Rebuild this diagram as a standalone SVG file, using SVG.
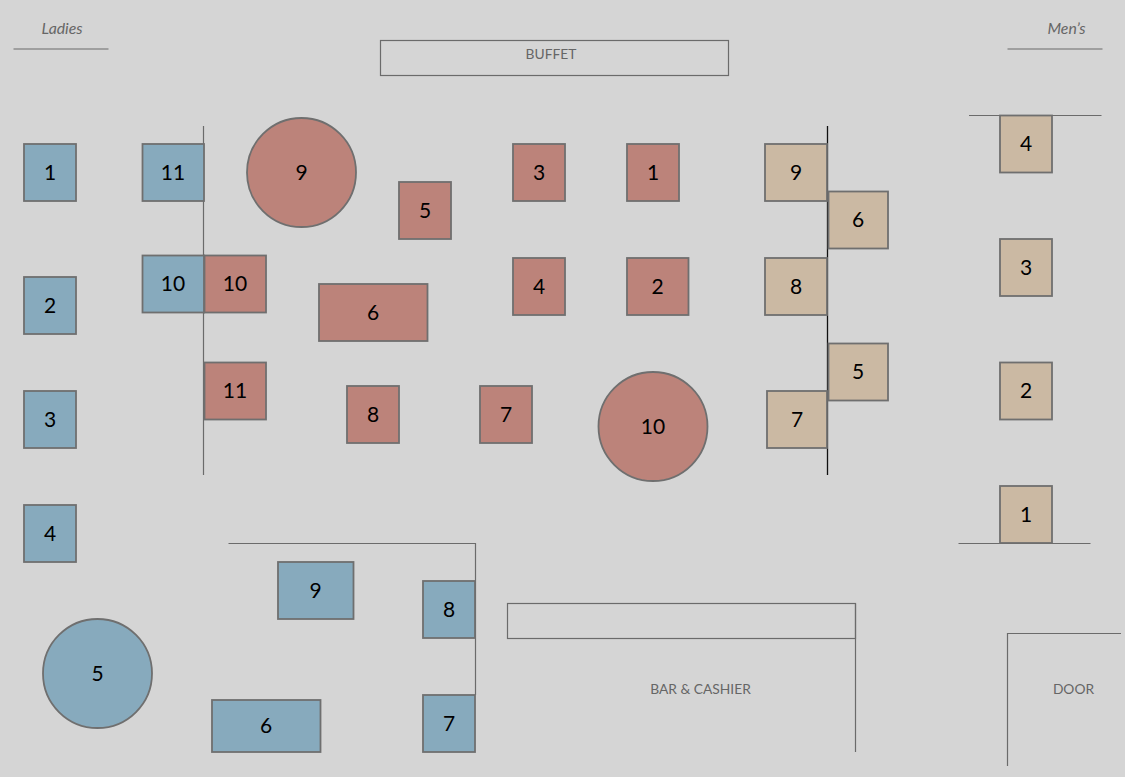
<svg xmlns="http://www.w3.org/2000/svg" width="1125" height="777" viewBox="0 0 1125 777">
<style>
text{font-family:Lato,"Open Sans","Liberation Sans",sans-serif;text-anchor:middle}
.n{font-size:21px;fill:#000}
.l{font-size:13.800px;fill:#666}
.i{font-size:15.800px;font-style:italic}
.w{stroke:#6b6b6b;stroke-width:1.2;fill:none}
.b,.r,.t{stroke:#6f6f6f;stroke-width:1.8}
.b{fill:#87aabd}.r{fill:#bc837a}.t{fill:#cbb9a3}
</style>
<rect width="1125" height="777" fill="#d5d5d5"/>
<g id="walls">
<path class="w" d="M13.500 49H108.500M1007.500 49H1102.500M969 115.500H1101.500M203.500 126V475M228.500 543.500H475.500V695M958.500 543.500H1090.500M855.500 603.500V752M1007.500 766V633.500H1121"/>
<path d="M827.500 126V475" stroke="#111" stroke-width="1.300" fill="none"/>
</g>
<g id="fixtures">
<g id="buffet"><rect class="w" x="380.500" y="40.500" width="348" height="35"/><text class="l" x="551" y="59">BUFFET</text></g>
<g id="bar"><rect class="w" x="507.500" y="603.500" width="348" height="35"/><text class="l" x="700.500" y="694">BAR &amp; CASHIER</text></g>
<g id="door"><text class="l" x="1073.500" y="694">DOOR</text></g>
<g id="ladies"><text class="l i" x="62" y="34">Ladies</text></g>
<g id="mens"><text class="l i" x="1066.500" y="34">Men’s</text></g>
</g>
<g id="tables-blue">
<g id="b1"><rect class="b" x="24" y="144" width="52" height="57"/><text class="n" x="50" y="180">1</text></g>
<g id="b2"><rect class="b" x="24" y="277" width="52" height="57"/><text class="n" x="50" y="313">2</text></g>
<g id="b3"><rect class="b" x="24" y="391" width="52" height="57"/><text class="n" x="50" y="427">3</text></g>
<g id="b4"><rect class="b" x="24" y="505" width="52" height="57"/><text class="n" x="50" y="541">4</text></g>
<g id="b5"><circle class="b" cx="97.500" cy="673.500" r="54.500"/><text class="n" x="97.500" y="681">5</text></g>
<g id="b6"><rect class="b" x="212" y="700" width="108.500" height="52"/><text class="n" x="266" y="733">6</text></g>
<g id="b7"><rect class="b" x="423" y="695" width="52" height="57"/><text class="n" x="449" y="731">7</text></g>
<g id="b8"><rect class="b" x="423" y="581" width="52" height="57"/><text class="n" x="449" y="617">8</text></g>
<g id="b9"><rect class="b" x="278" y="562" width="75.500" height="57"/><text class="n" x="315.500" y="598">9</text></g>
<g id="b10"><rect class="b" x="142.500" y="255.500" width="61.500" height="57"/><text class="n" x="173" y="291">10</text></g>
<g id="b11"><rect class="b" x="142.500" y="144" width="61.500" height="57"/><text class="n" x="173" y="180">11</text></g>
</g>
<g id="tables-red">
<g id="r1"><rect class="r" x="627" y="144" width="52" height="57"/><text class="n" x="653" y="180">1</text></g>
<g id="r2"><rect class="r" x="627" y="258" width="61.500" height="57"/><text class="n" x="657.500" y="294">2</text></g>
<g id="r3"><rect class="r" x="513" y="144" width="52" height="57"/><text class="n" x="539" y="180">3</text></g>
<g id="r4"><rect class="r" x="513" y="258" width="52" height="57"/><text class="n" x="539" y="294">4</text></g>
<g id="r5"><rect class="r" x="399" y="182" width="52" height="57"/><text class="n" x="425" y="218">5</text></g>
<g id="r6"><rect class="r" x="319" y="284" width="108.500" height="57"/><text class="n" x="373" y="320">6</text></g>
<g id="r7"><rect class="r" x="480" y="386" width="52" height="57"/><text class="n" x="506" y="422">7</text></g>
<g id="r8"><rect class="r" x="347" y="386" width="52" height="57"/><text class="n" x="373" y="422">8</text></g>
<g id="r9"><circle class="r" cx="301.500" cy="172.500" r="54.500"/><text class="n" x="301.500" y="180">9</text></g>
<g id="r10"><rect class="r" x="204.500" y="255.500" width="61.500" height="57"/><text class="n" x="235" y="291">10</text></g>
<g id="r11"><rect class="r" x="204.500" y="362.500" width="61.500" height="57"/><text class="n" x="235" y="398">11</text></g>
<g id="r10c"><circle class="r" cx="653" cy="426.500" r="54.500"/><text class="n" x="653" y="434">10</text></g>
</g>
<g id="tables-tan">
<g id="t1"><rect class="t" x="1000" y="486" width="52" height="57"/><text class="n" x="1026" y="522">1</text></g>
<g id="t2"><rect class="t" x="1000" y="362.500" width="52" height="57"/><text class="n" x="1026" y="398">2</text></g>
<g id="t3"><rect class="t" x="1000" y="239" width="52" height="57"/><text class="n" x="1026" y="275">3</text></g>
<g id="t4"><rect class="t" x="1000" y="115.500" width="52" height="57"/><text class="n" x="1026" y="151">4</text></g>
<g id="t5"><rect class="t" x="828.500" y="343.500" width="59.500" height="57"/><text class="n" x="858" y="379">5</text></g>
<g id="t6"><rect class="t" x="828.500" y="191.500" width="59.500" height="57"/><text class="n" x="858" y="227">6</text></g>
<g id="t7"><rect class="t" x="767" y="391" width="60" height="57"/><text class="n" x="797" y="427">7</text></g>
<g id="t8"><rect class="t" x="765" y="258" width="62" height="57"/><text class="n" x="796" y="294">8</text></g>
<g id="t9"><rect class="t" x="765" y="144" width="62" height="57"/><text class="n" x="796" y="180">9</text></g>
</g>
</svg>
